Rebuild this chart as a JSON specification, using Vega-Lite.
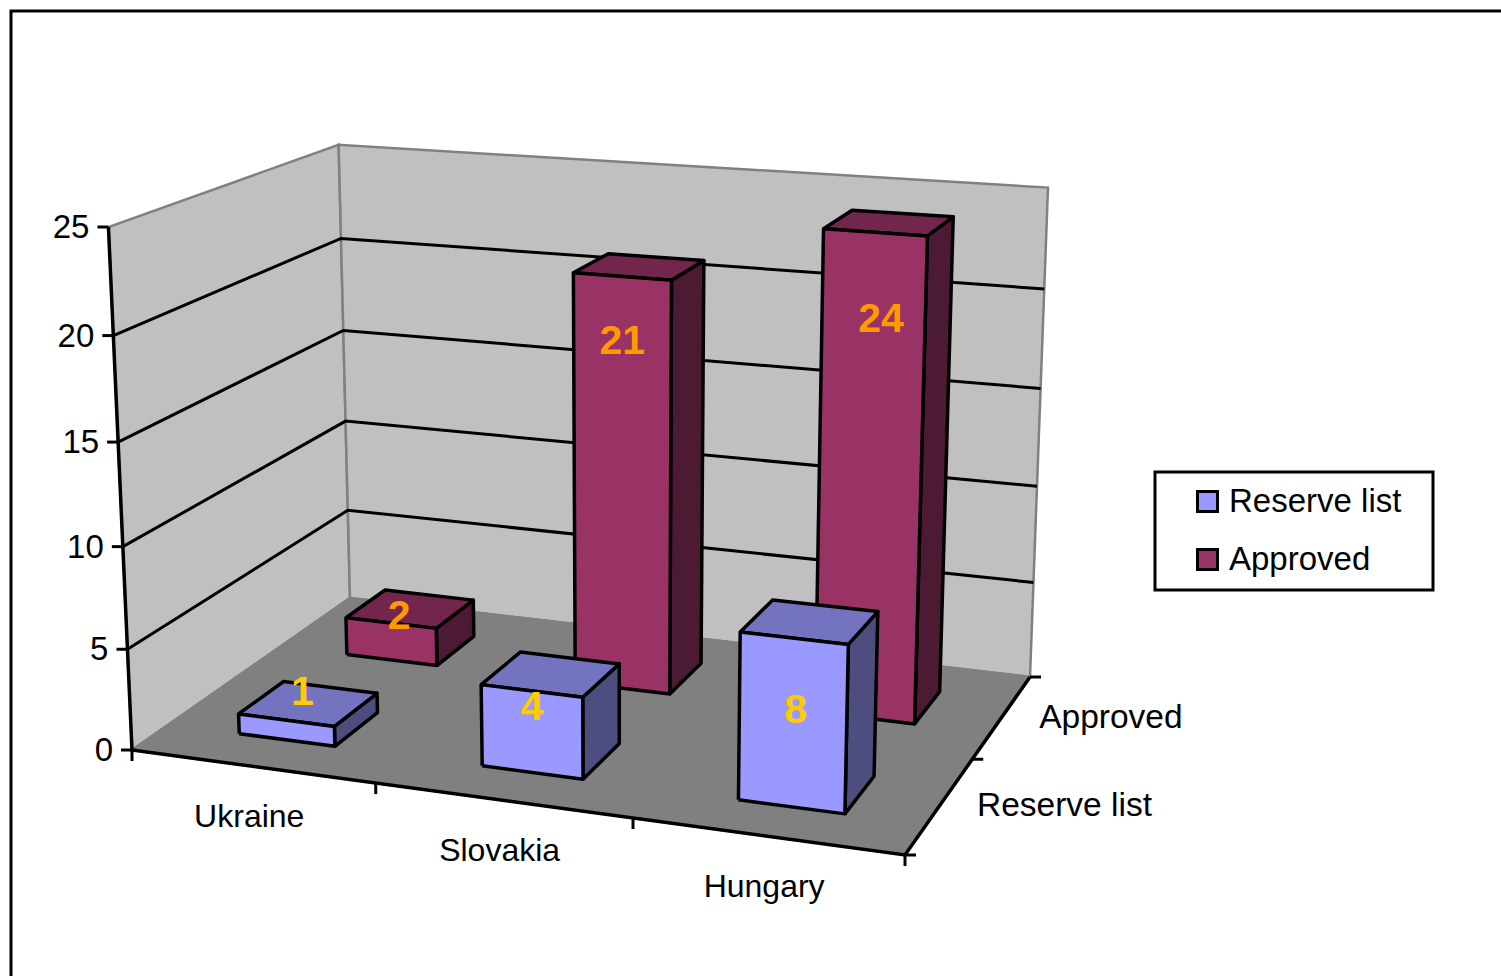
{
"$schema":"https://vega.github.io/schema/vega-lite/v6.json",
"width":1492,"height":967,"autosize":{"type":"none"},
"padding":{"left":11,"top":11,"right":0,"bottom":0},
"background":"white",
"config":{"view":{"stroke":"black","strokeWidth":3},"text":{"font":"Liberation Sans"}},
"datasets":{
"bars":[
{"country":"Ukraine","series":"Approved","value":2},
{"country":"Slovakia","series":"Approved","value":21},
{"country":"Hungary","series":"Approved","value":24},
{"country":"Ukraine","series":"Reserve list","value":1},
{"country":"Slovakia","series":"Reserve list","value":4},
{"country":"Hungary","series":"Reserve list","value":8}
],
"planes":[
{"shade":"Side wall","k":0,"u":0,"v":0,"value":0},{"shade":"Side wall","k":1,"u":0,"v":1,"value":0},{"shade":"Side wall","k":2,"u":0,"v":1,"value":25},{"shade":"Side wall","k":3,"u":0,"v":0,"value":25},{"shade":"Side wall","k":4,"u":0,"v":0,"value":0},
{"shade":"Back wall","k":0,"u":0,"v":1,"value":0},{"shade":"Back wall","k":1,"u":1,"v":1,"value":0},{"shade":"Back wall","k":2,"u":1,"v":1,"value":25},{"shade":"Back wall","k":3,"u":0,"v":1,"value":25},{"shade":"Back wall","k":4,"u":0,"v":1,"value":0},
{"shade":"Floor","k":0,"u":0,"v":0,"value":0},{"shade":"Floor","k":1,"u":1,"v":0,"value":0},{"shade":"Floor","k":2,"u":1,"v":1,"value":0},{"shade":"Floor","k":3,"u":0,"v":1,"value":0},{"shade":"Floor","k":4,"u":0,"v":0,"value":0}
],
"grid":[{"value":5},{"value":10},{"value":15},{"value":20}],
"frame":[{"k":0,"u":0,"v":0,"value":25},{"k":1,"u":0,"v":0,"value":0},{"k":2,"u":1,"v":0,"value":0},{"k":3,"u":1,"v":1,"value":0}],
"ticks":[
{"axis":"value","step":0},{"axis":"value","step":5},{"axis":"value","step":10},{"axis":"value","step":15},{"axis":"value","step":20},{"axis":"value","step":25},
{"axis":"category","step":0},{"axis":"category","step":1},{"axis":"category","step":2},{"axis":"category","step":3},
{"axis":"depth","step":0},{"axis":"depth","step":1},{"axis":"depth","step":2}
],
"valueLabels":[{"value":0},{"value":5},{"value":10},{"value":15},{"value":20},{"value":25}],
"categoryLabels":[{"label":"Ukraine","i":0},{"label":"Slovakia","i":1},{"label":"Hungary","i":2}],
"depthLabels":[{"label":"Reserve list","i":0},{"label":"Approved","i":1}]
},
"encoding":{
"x":{"field":"X","type":"quantitative","axis":null,"scale":{"domain":[11,1503],"nice":false,"zero":false}},
"y":{"field":"Y","type":"quantitative","axis":null,"scale":{"domain":[978,11],"nice":false,"zero":false}}
},
"layer":[
{"data":{"name":"planes"},
"transform":[
{"calculate":"datum.value/25","as":"t"},
{"calculate":"-0.07893*datum.u+0.15127*datum.v+1-0.0456*datum.t","as":"W"},
{"calculate":"(701.57*datum.u+270.94*datum.v+132-28.5*datum.t)/datum.W","as":"X"},
{"calculate":"(37.51*datum.u-61.54*datum.v+750+(-533.35+5*datum.v*(1-datum.u))*datum.t)/datum.W","as":"Y"}],
"mark":{"type":"line","filled":true,"stroke":"#808080","strokeWidth":2.5,"strokeJoin":"miter","clip":false},
"encoding":{"order":{"field":"k"},"detail":{"field":"shade"},
"color":{"field":"shade","type":"nominal",
"scale":{"domain":["Reserve list","Approved","Reserve list top","Approved top","Reserve list side","Approved side","Floor","Back wall","Side wall"],"range":["#9999FF","#993366","#7373BF","#73264D","#4D4D80","#4D1A33","#808080","#C0C0C0","#C0C0C0"]},
"legend":{"values":["Reserve list","Approved"],"orient":"none","legendX":1144,"legendY":461,"title":null,"symbolType":"square","symbolSize":400,"symbolStrokeColor":"black","symbolStrokeWidth":3,"labelFontSize":33,"labelFont":"Liberation Sans","labelColor":"black","labelLimit":500,"labelExpr":"datum.label+'\u00a0\u00a0\u200b'","strokeColor":"black","fillColor":"white","padding":13,"symbolOffset":23,"labelOffset":5,"rowPadding":24,"encode":{"legend":{"update":{"strokeWidth":{"value":3}}}}}}}},
{"data":{"name":"grid"},
"transform":[
{"calculate":"[{k:0,u:0,v:0},{k:1,u:0,v:1},{k:2,u:1,v:1}]","as":"verts"},{"flatten":["verts"]},
{"calculate":"datum.verts.u","as":"u"},{"calculate":"datum.verts.v","as":"v"},{"calculate":"datum.verts.k","as":"k"},
{"calculate":"datum.value/25","as":"t"},
{"calculate":"-0.07893*datum.u+0.15127*datum.v+1-0.0456*datum.t","as":"W"},
{"calculate":"(701.57*datum.u+270.94*datum.v+132-28.5*datum.t)/datum.W","as":"X"},
{"calculate":"(37.51*datum.u-61.54*datum.v+750+(-533.35+5*datum.v*(1-datum.u))*datum.t)/datum.W","as":"Y"}],
"mark":{"type":"line","stroke":"black","strokeWidth":3},
"encoding":{"order":{"field":"k"},"detail":{"field":"value"}}},
{"data":{"name":"frame"},
"transform":[
{"calculate":"datum.value/25","as":"t"},
{"calculate":"-0.07893*datum.u+0.15127*datum.v+1-0.0456*datum.t","as":"W"},
{"calculate":"(701.57*datum.u+270.94*datum.v+132-28.5*datum.t)/datum.W","as":"X"},
{"calculate":"(37.51*datum.u-61.54*datum.v+750+(-533.35+5*datum.v*(1-datum.u))*datum.t)/datum.W","as":"Y"}],
"mark":{"type":"line","stroke":"black","strokeWidth":3.5},
"encoding":{"order":{"field":"k"}}},
{"data":{"name":"ticks"},
"transform":[
{"calculate":"datum.axis=='category'?datum.step/3:(datum.axis=='depth'?1:0)","as":"u"},
{"calculate":"datum.axis=='depth'?datum.step/2:0","as":"v"},
{"calculate":"datum.axis=='value'?datum.step/25:0","as":"t"},
{"calculate":"-0.07893*datum.u+0.15127*datum.v+1-0.0456*datum.t","as":"W"},
{"calculate":"(701.57*datum.u+270.94*datum.v+132-28.5*datum.t)/datum.W","as":"X"},
{"calculate":"(37.51*datum.u-61.54*datum.v+750+(-533.35+5*datum.v*(1-datum.u))*datum.t)/datum.W","as":"Y"},
{"calculate":"datum.X+(datum.axis=='depth'?11:(datum.axis=='value'?-11:0))","as":"X2"},
{"calculate":"datum.Y+(datum.axis=='category'?11:0)","as":"Y2"}],
"mark":{"type":"rule","stroke":"black","strokeWidth":3},
"encoding":{"x2":{"field":"X2"},"y2":{"field":"Y2"}}},
{"data":{"name":"bars"},
"transform":[
{"calculate":"(indexof(['Ukraine','Slovakia','Hungary'],datum.country)+0.5)/3","as":"cu"},
{"calculate":"datum.series=='Approved'?0.75:0.25","as":"cv"},
{"calculate":"[{f:'side',k:0,a:1,b:-1,c:0},{f:'side',k:1,a:1,b:1,c:0},{f:'side',k:2,a:1,b:1,c:1},{f:'side',k:3,a:1,b:-1,c:1},{f:'side',k:4,a:1,b:-1,c:0},{f:'top',k:0,a:-1,b:-1,c:1},{f:'top',k:1,a:1,b:-1,c:1},{f:'top',k:2,a:1,b:1,c:1},{f:'top',k:3,a:-1,b:1,c:1},{f:'top',k:4,a:-1,b:-1,c:1},{f:'front',k:0,a:-1,b:-1,c:0},{f:'front',k:1,a:1,b:-1,c:0},{f:'front',k:2,a:1,b:-1,c:1},{f:'front',k:3,a:-1,b:-1,c:1},{f:'front',k:4,a:-1,b:-1,c:0}]","as":"verts"},
{"flatten":["verts"]},
{"calculate":"datum.verts.k","as":"k"},
{"calculate":"datum.verts.f=='front'?datum.series:datum.series+' '+datum.verts.f","as":"shade"},
{"calculate":"datum.country+' '+datum.shade","as":"face"},
{"calculate":"datum.cu+datum.verts.a/15","as":"u"},
{"calculate":"datum.cv+datum.verts.b*0.1","as":"v"},
{"calculate":"datum.verts.c*datum.value/25","as":"t"},
{"calculate":"-0.07893*datum.u+0.15127*datum.v+1-0.0456*datum.t","as":"W"},
{"calculate":"(701.57*datum.u+270.94*datum.v+132-28.5*datum.t)/datum.W","as":"X"},
{"calculate":"(37.51*datum.u-61.54*datum.v+750+(-533.35+5*datum.v*(1-datum.u))*datum.t)/datum.W","as":"Y"}],
"mark":{"type":"line","filled":true,"stroke":"black","strokeWidth":3.5,"strokeJoin":"round"},
"encoding":{"order":{"field":"k"},"detail":{"field":"face"},
"color":{"field":"shade","type":"nominal",
"scale":{"domain":["Reserve list","Approved","Reserve list top","Approved top","Reserve list side","Approved side","Floor","Back wall","Side wall"],"range":["#9999FF","#993366","#7373BF","#73264D","#4D4D80","#4D1A33","#808080","#C0C0C0","#C0C0C0"]},
"legend":{"values":["Reserve list","Approved"],"orient":"none","legendX":1144,"legendY":461,"title":null,"symbolType":"square","symbolSize":400,"symbolStrokeColor":"black","symbolStrokeWidth":3,"labelFontSize":33,"labelFont":"Liberation Sans","labelColor":"black","labelLimit":500,"labelExpr":"datum.label+'\u00a0\u00a0\u200b'","strokeColor":"black","fillColor":"white","padding":13,"symbolOffset":23,"labelOffset":5,"rowPadding":24,"encode":{"legend":{"update":{"strokeWidth":{"value":3}}}}}}}},
{"data":{"name":"bars"},
"transform":[
{"calculate":"(indexof(['Ukraine','Slovakia','Hungary'],datum.country)+0.5)/3","as":"u"},
{"calculate":"datum.series=='Approved'?0.75:0.25","as":"v"},
{"calculate":"datum.value/25","as":"t"},
{"calculate":"-0.07893*datum.u+0.15127*datum.v+1-0.0456*datum.t","as":"W"},
{"calculate":"(701.57*datum.u+270.94*datum.v+132-28.5*datum.t)/datum.W","as":"X"},
{"calculate":"(37.51*datum.u-61.54*datum.v+750+(-533.35+5*datum.v*(1-datum.u))*datum.t)/datum.W","as":"Y"},
{"calculate":"{'Ukraine Reserve list':[-6,-11],'Slovakia Reserve list':[-19,34],'Hungary Reserve list':[-14,89],'Ukraine Approved':[-11,8],'Slovakia Approved':[-17,75],'Hungary Approved':[-8,97]}[datum.country+' '+datum.series]","as":"off"},
{"calculate":"datum.X+datum.off[0]","as":"X"},
{"calculate":"datum.Y+datum.off[1]","as":"Y"}],
"mark":{"type":"text","font":"Liberation Sans","fontWeight":"bold","fontSize":41,"align":"center","baseline":"middle"},
"encoding":{"text":{"field":"value","type":"quantitative"},
"color":{"condition":{"test":"datum.series=='Approved'","value":"#FF9900"},"value":"#FFCC00"}}},
{"data":{"name":"valueLabels"},
"transform":[
{"calculate":"datum.value/25","as":"t"},
{"calculate":"1-0.0456*datum.t","as":"W"},
{"calculate":"(132-28.5*datum.t)/datum.W","as":"X"},
{"calculate":"(750-533.35*datum.t)/datum.W","as":"Y"}],
"mark":{"type":"text","font":"Liberation Sans","fontSize":33,"align":"right","baseline":"middle","dx":-19,"dy":1,"color":"black"},
"encoding":{"text":{"field":"value","type":"quantitative"}}},
{"data":{"name":"categoryLabels"},
"transform":[
{"calculate":"(datum.i+0.5)/3","as":"u"},
{"calculate":"-0.07893*datum.u+1","as":"W"},
{"calculate":"(701.57*datum.u+132)/datum.W","as":"X"},
{"calculate":"(37.51*datum.u+750)/datum.W","as":"Y"}],
"mark":{"type":"text","font":"Liberation Sans","fontSize":32,"align":"center","baseline":"middle","dx":-3,"dy":51,"color":"black"},
"encoding":{"text":{"field":"label","type":"nominal"}}},
{"data":{"name":"depthLabels"},
"transform":[
{"calculate":"(datum.i+0.5)/2","as":"v"},
{"calculate":"-0.07893+0.15127*datum.v+1","as":"W"},
{"calculate":"(701.57+270.94*datum.v+132)/datum.W","as":"X"},
{"calculate":"(37.51-61.54*datum.v+750)/datum.W","as":"Y"}],
"mark":{"type":"text","font":"Liberation Sans","fontSize":33.5,"align":"left","baseline":"middle","dx":37,"dy":1,"color":"black"},
"encoding":{"text":{"field":"label","type":"nominal"}}}
]
}
